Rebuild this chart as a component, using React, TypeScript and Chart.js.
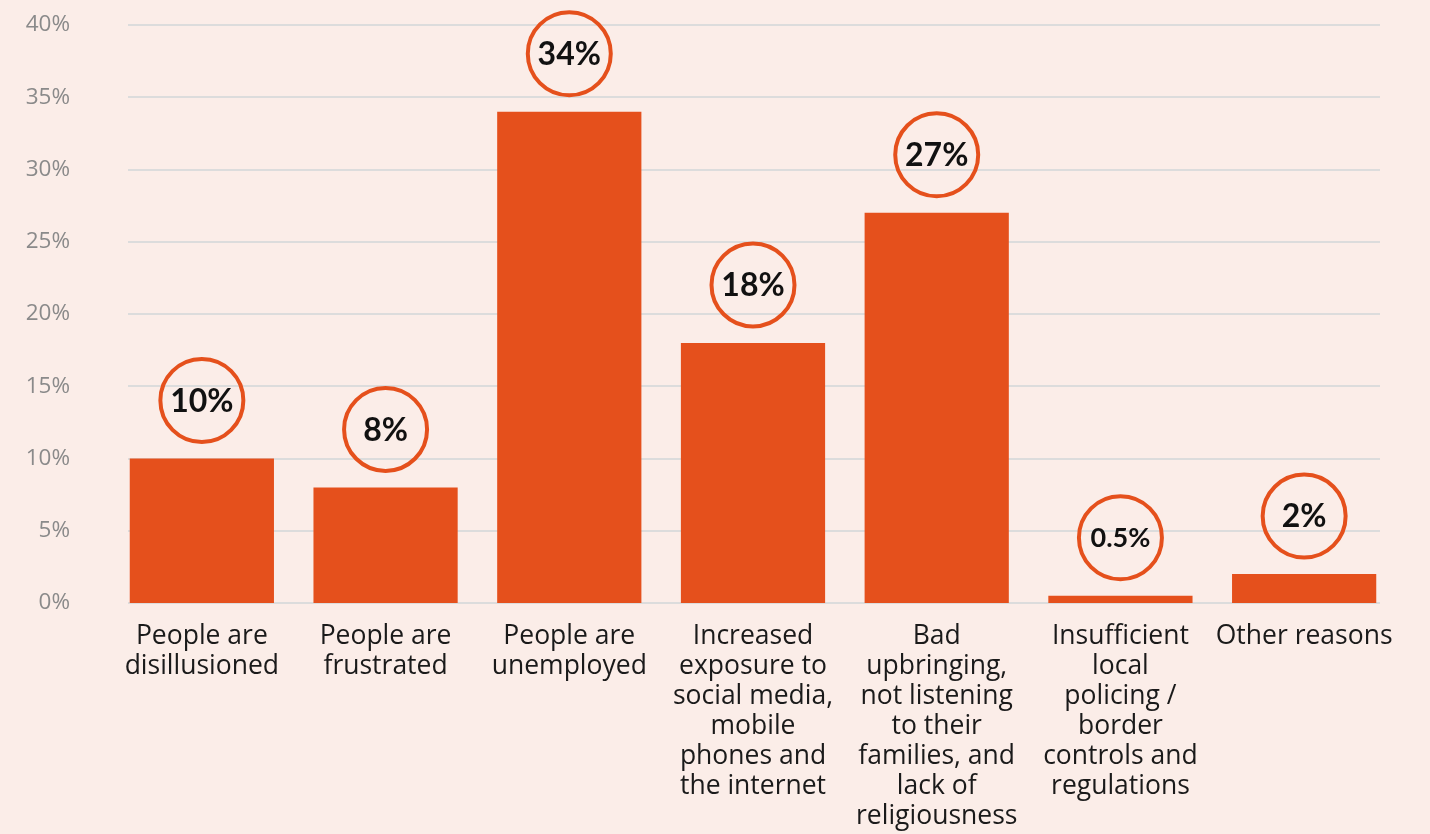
import React, { useEffect, useRef } from "react";
import { Chart, registerables } from "chart.js";

Chart.register(...registerables);

const categories: string[][] = [
  ["People are", "disillusioned"],
  ["People are", "frustrated"],
  ["People are", "unemployed"],
  ["Increased", "exposure to", "social media,", "mobile", "phones and", "the internet"],
  ["Bad", "upbringing,", "not listening", "to their", "families, and", "lack of", "religiousness"],
  ["Insufficient", "local", "policing /", "border", "controls and", "regulations"],
  ["Other reasons"],
];
const values: number[] = [10, 8, 34, 18, 27, 0.5, 2];
const valueLabels: string[] = ["10%", "8%", "34%", "18%", "27%", "0.5%", "2%"];
const yTicks: number[] = [0, 5, 10, 15, 20, 25, 30, 35, 40];

const BG = "#fbede8";
const BAR = "#e5501c";
const LABEL_FONT = "'Open Sans', 'Noto Sans', sans-serif";
const VALUE_FONT = "Lato, 'Open Sans', sans-serif";

export default function App() {
  const ref = useRef<HTMLCanvasElement | null>(null);
  useEffect(() => {
    document.body.style.margin = "0";
    document.body.style.background = BG;
    const canvas = ref.current!;
    const bgPlugin = {
      id: "bg",
      beforeDraw(chart: any) {
        const ctx = chart.ctx;
        ctx.save();
        ctx.fillStyle = BG;
        ctx.fillRect(0, 0, chart.width, chart.height);
        const y = chart.scales.y;
        const { left, right } = chart.chartArea;
        ctx.strokeStyle = "#dcdcdc";
        ctx.lineWidth = 2;
        yTicks.forEach((t) => {
          const py = Math.round(y.getPixelForValue(t));
          ctx.beginPath();
          ctx.moveTo(left + 18, py);
          ctx.lineTo(right - 16, py);
          ctx.stroke();
        });
        ctx.restore();
      },
    };
    const circlePlugin = {
      id: "circles",
      afterDatasetsDraw(chart: any) {
        const ctx = chart.ctx;
        const meta = chart.getDatasetMeta(0);
        ctx.save();
        meta.data.forEach((bar: any, i: number) => {
          const cx = bar.x;
          const cy = bar.y - 58;
          ctx.beginPath();
          ctx.arc(cx, cy, 41.5, 0, Math.PI * 2);
          ctx.strokeStyle = BAR;
          ctx.lineWidth = 4;
          ctx.stroke();
          const small = valueLabels[i].length > 3;
          ctx.fillStyle = "#111";
          ctx.font = `bold ${small ? 27 : 32}px ${VALUE_FONT}`;
          ctx.textAlign = "center";
          ctx.textBaseline = "middle";
          ctx.fillText(valueLabels[i], cx, cy + 1);
        });
        ctx.restore();
      },
    };
    const zeroPad = (scale: any) => {
      scale.paddingTop = 0;
      scale.paddingBottom = 0;
    };
    const chart = new Chart(canvas, {
      type: "bar",
      data: {
        labels: categories,
        datasets: [
          {
            data: values,
            backgroundColor: BAR,
            barPercentage: 0.785,
            categoryPercentage: 1,
          },
        ],
      },
      options: {
        animation: false,
        responsive: false,
        layout: { padding: { top: 25, right: 34, left: 0, bottom: 0 } },
        plugins: { legend: { display: false }, tooltip: { enabled: false } },
        scales: {
          x: {
            grid: { display: false },
            border: { display: false },
            ticks: {
              color: "#1a1a1a",
              font: { family: LABEL_FONT, size: 26.5, lineHeight: 30 / 26.5 },
              padding: 10,
              maxRotation: 0,
              autoSkip: false,
            },
            afterFit(scale: any) {
              scale.height = 231;
              zeroPad(scale);
            },
          },
          y: {
            min: 0,
            max: 40,
            grid: { display: false },
            border: { display: false },
            ticks: {
              stepSize: 5,
              color: "#8a8a8a",
              font: { family: LABEL_FONT, size: 22.5 },
              padding: 32,
              callback: (v: any) => `${v}%`,
            },
            afterFit(scale: any) {
              scale.width = 110;
              zeroPad(scale);
            },
          },
        },
      },
      plugins: [bgPlugin, circlePlugin],
    });
    return () => chart.destroy();
  }, []);
  return (
    <div style={{ width: 1430, height: 834, background: BG }}>
      <canvas ref={ref} width={1430} height={834} />
    </div>
  );
}
